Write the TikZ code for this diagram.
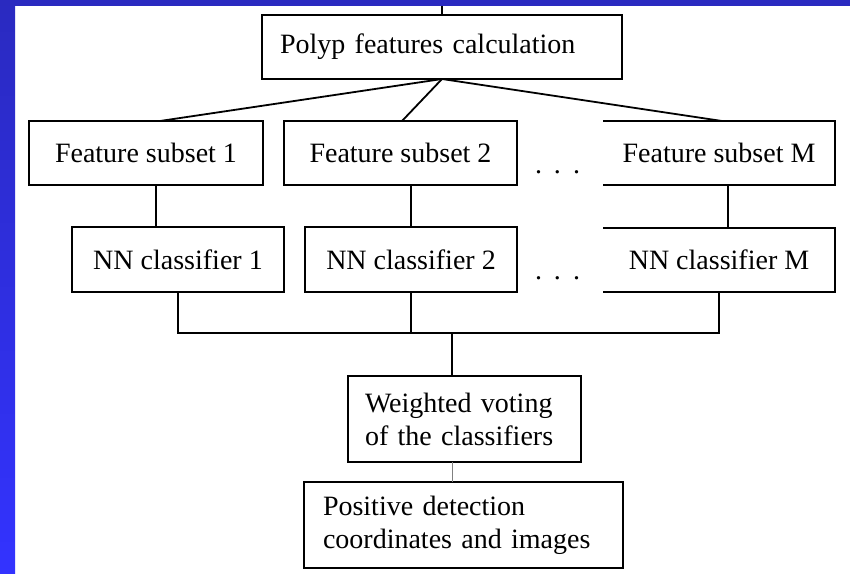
\documentclass[tikz,border=0pt]{standalone}
\usepackage{fontspec}
\setmainfont{Liberation Serif}
\usetikzlibrary{positioning}
\definecolor{topblue}{RGB}{42,42,192}
\definecolor{sideblue}{RGB}{51,51,255}

\begin{document}
\begin{tikzpicture}[x=1pt, y=1pt, line width=1.8pt,
    every node/.style={font=\fontsize{28}{33}\selectfont, inner sep=0pt, outer sep=0pt},
    box/.style={draw, minimum height=64pt},
    openbox/.style={minimum height=64pt},
    textbox/.style={draw, align=left, minimum height=86pt}]
    % page and blue frame
    \useasboundingbox (0,0) rectangle (850,-573);
    \fill[white] (0,0) rectangle (850,-573);
    \shade[top color=topblue, bottom color=sideblue] (0,0) rectangle (15,-573);
    \fill[topblue] (0,0) rectangle (850,-6);

    \node (polyp) [box, align=left, inner xsep=18pt, text width=324pt] at (442,-47) {Polyp features calculation};
    \node (fs2) [box, minimum width=233pt, below=42pt of polyp, xshift=-41.5pt] {Feature subset 2};
    \node (fs1) [box, minimum width=234pt, left=21pt of fs2] {Feature subset 1};
    \node (fsM) [openbox, minimum width=232pt, right=86pt of fs2] {Feature subset M};
    \node (nn1) [box, minimum width=212pt, minimum height=65pt, below=42pt of fs1, xshift=32pt] {NN classifier 1};
    \node (nn2) [box, minimum width=212pt, minimum height=65pt, below=42pt of fs2, xshift=10.5pt] {NN classifier 2};
    \node (nnM) [openbox, minimum width=232pt, below=43pt of fsM] {NN classifier M};
    \node (dots1) [right=18pt of fs2, yshift=-19pt] {.\kern12pt.\kern12pt.};
    \node (dots2) [right=18pt of nn2, yshift=-18.5pt] {.\kern12pt.\kern12pt.};
    \node (vote) [textbox, inner xsep=17pt, text width=199pt, below=84pt of nn2, xshift=53.5pt] {Weighted voting\\of the classifiers};
    \node (pos) [textbox, inner xsep=19pt, text width=281pt, below=20pt of vote, xshift=-1pt] {Positive detection\\coordinates and images};

    % the last column has no left edge
    \draw (fsM.north west) -- (fsM.north east) -- (fsM.south east) -- (fsM.south west);
    \draw (nnM.north west) -- (nnM.north east) -- (nnM.south east) -- (nnM.south west);

    \coordinate (in) at (442,-6);
    \coordinate [above=43pt of vote.north, xshift=-12.5pt] (bus);

    \draw (in) -- (polyp);
    \draw (polyp.south) -- ([xshift=14pt]fs1.north);
    \draw (polyp.south) -- ([xshift=1.5pt]fs2.north);
    \draw (polyp.south) -- ([xshift=3pt]fsM.north);
    \draw ([xshift=10pt]fs1.south) -- ++(0,-42);
    \draw (fs2.south -| nn2.north) -- (nn2.north);
    \draw ([xshift=9pt]fsM.south) -- ++(0,-43);
    \draw (nn1.south) |- (nnM.south |- bus) -- (nnM.south);
    \draw (nn2.south) -- (nn2.south |- bus);
    \draw (bus) -- (bus |- vote.north);
    \draw[gray, line width=1pt] (bus |- vote.south) -- (bus |- pos.north);
\end{tikzpicture}
\end{document}
